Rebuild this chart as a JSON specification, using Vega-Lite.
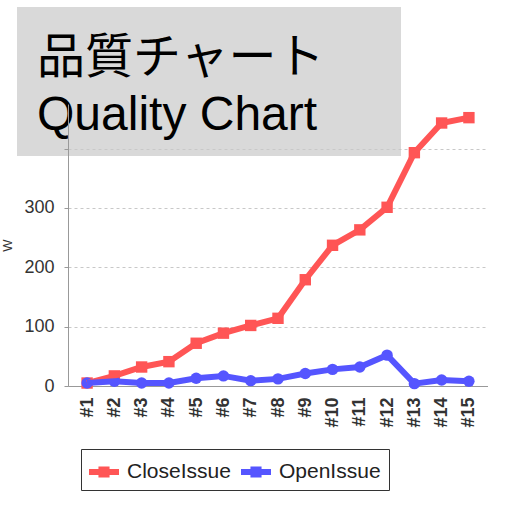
{
  "$schema": "https://vega.github.io/schema/vega-lite/v6.json",
  "background": "white",
  "padding": {"top": 7, "left": 1, "right": 0, "bottom": 0},
  "spacing": -52,
  "align": "none",
  "config": {"view": {"stroke": null}, "font": "Liberation Sans"},
  "vconcat": [
    {
      "width": 384, "height": 149,
      "view": {"fill": "#d9d9d9", "stroke": null},
      "data": {"values": []}, "mark": "point", "encoding": {},
      "title": {"text": ["品質チャート", "Quality Chart"], "anchor": "start", "orient": "top", "frame": "group", "offset": -171, "dx": 20, "baseline": "alphabetic", "fontSize": 48, "font": "Liberation Sans, 'Noto Sans CJK JP'", "fontWeight": "normal", "color": "black", "lineHeight": 57}
    },
    {
      "spacing": 0,
      "bounds": "flush",
      "hconcat": [
        {"width": 51, "height": 282, "data": {"values": []}, "mark": "point", "encoding": {}},
        {
          "width": 420,
          "height": 282,
          "data": {
            "values": [
              {"issue": "#1", "series": "CloseIssue", "count": 5},
              {"issue": "#2", "series": "CloseIssue", "count": 17},
              {"issue": "#3", "series": "CloseIssue", "count": 32},
              {"issue": "#4", "series": "CloseIssue", "count": 41},
              {"issue": "#5", "series": "CloseIssue", "count": 72},
              {"issue": "#6", "series": "CloseIssue", "count": 89},
              {"issue": "#7", "series": "CloseIssue", "count": 102},
              {"issue": "#8", "series": "CloseIssue", "count": 114},
              {"issue": "#9", "series": "CloseIssue", "count": 179},
              {"issue": "#10", "series": "CloseIssue", "count": 237},
              {"issue": "#11", "series": "CloseIssue", "count": 263},
              {"issue": "#12", "series": "CloseIssue", "count": 301},
              {"issue": "#13", "series": "CloseIssue", "count": 393},
              {"issue": "#14", "series": "CloseIssue", "count": 443},
              {"issue": "#15", "series": "CloseIssue", "count": 452},
              {"issue": "#1", "series": "OpenIssue", "count": 5},
              {"issue": "#2", "series": "OpenIssue", "count": 8},
              {"issue": "#3", "series": "OpenIssue", "count": 5},
              {"issue": "#4", "series": "OpenIssue", "count": 5},
              {"issue": "#5", "series": "OpenIssue", "count": 13},
              {"issue": "#6", "series": "OpenIssue", "count": 17},
              {"issue": "#7", "series": "OpenIssue", "count": 9},
              {"issue": "#8", "series": "OpenIssue", "count": 12},
              {"issue": "#9", "series": "OpenIssue", "count": 21},
              {"issue": "#10", "series": "OpenIssue", "count": 28},
              {"issue": "#11", "series": "OpenIssue", "count": 32},
              {"issue": "#12", "series": "OpenIssue", "count": 52},
              {"issue": "#13", "series": "OpenIssue", "count": 4},
              {"issue": "#14", "series": "OpenIssue", "count": 10},
              {"issue": "#15", "series": "OpenIssue", "count": 8}
            ]
          },
          "encoding": {
            "x": {
              "field": "issue", "type": "ordinal", "sort": null,
              "scale": {"type": "point", "padding": 0.7},
              "axis": {"title": null, "labelAngle": -90, "labelFontSize": 18, "labelFontWeight": "bold", "labelColor": "#333", "labelPadding": 11, "ticks": false, "domainColor": "#999", "grid": false, "labelFont": "Liberation Sans"}
            },
            "y": {
              "field": "count", "type": "quantitative",
              "scale": {"domain": [0, 475], "nice": false},
              "axis": {"title": "W", "values": [0, 100, 200, 300, 400], "labelExpr": "datum.value == 400 ? '' : datum.label", "labelFontSize": 18, "labelColor": "#333", "labelPadding": 10, "tickSize": 4, "tickColor": "#999", "domainColor": "#999", "gridColor": "#c8c8c8", "gridDash": [3, 3], "titleFontSize": 13, "titleFontWeight": "normal", "titleColor": "#333", "titlePadding": 9, "labelFont": "Liberation Sans", "titleFont": "Liberation Sans"}
            },
            "color": {
              "field": "series", "type": "nominal",
              "scale": {"domain": ["CloseIssue", "OpenIssue"], "range": ["#ff5555", "#5555ff"]},
              "legend": {"title": null, "orient": "none", "legendX": 64, "legendY": 442, "direction": "horizontal", "symbolType": "M-1,-0.2H1V0.2H-1Z M-0.37,-0.37H0.37V0.37H-0.37Z", "symbolSize": 900, "symbolStrokeWidth": 0, "symbolOpacity": 1, "labelFontSize": 21, "labelColor": "#222", "labelFont": "Liberation Sans", "labelOffset": 8, "columnPadding": 10, "padding": 8, "strokeColor": "#333", "fillColor": "white"}
            }
          },
          "layer": [
            {
              "transform": [{"filter": "datum.series == 'CloseIssue'"}],
              "mark": {"type": "point", "shape": "square", "filled": true, "opacity": 1, "size": 130}
            },
            {
              "transform": [{"filter": "datum.series == 'OpenIssue'"}],
              "mark": {"type": "point", "shape": "circle", "filled": true, "opacity": 1, "size": 130}
            },
            {"mark": {"type": "line", "strokeWidth": 6}, "encoding": {}}
          ]
        }
      ]
    }
  ]
}
